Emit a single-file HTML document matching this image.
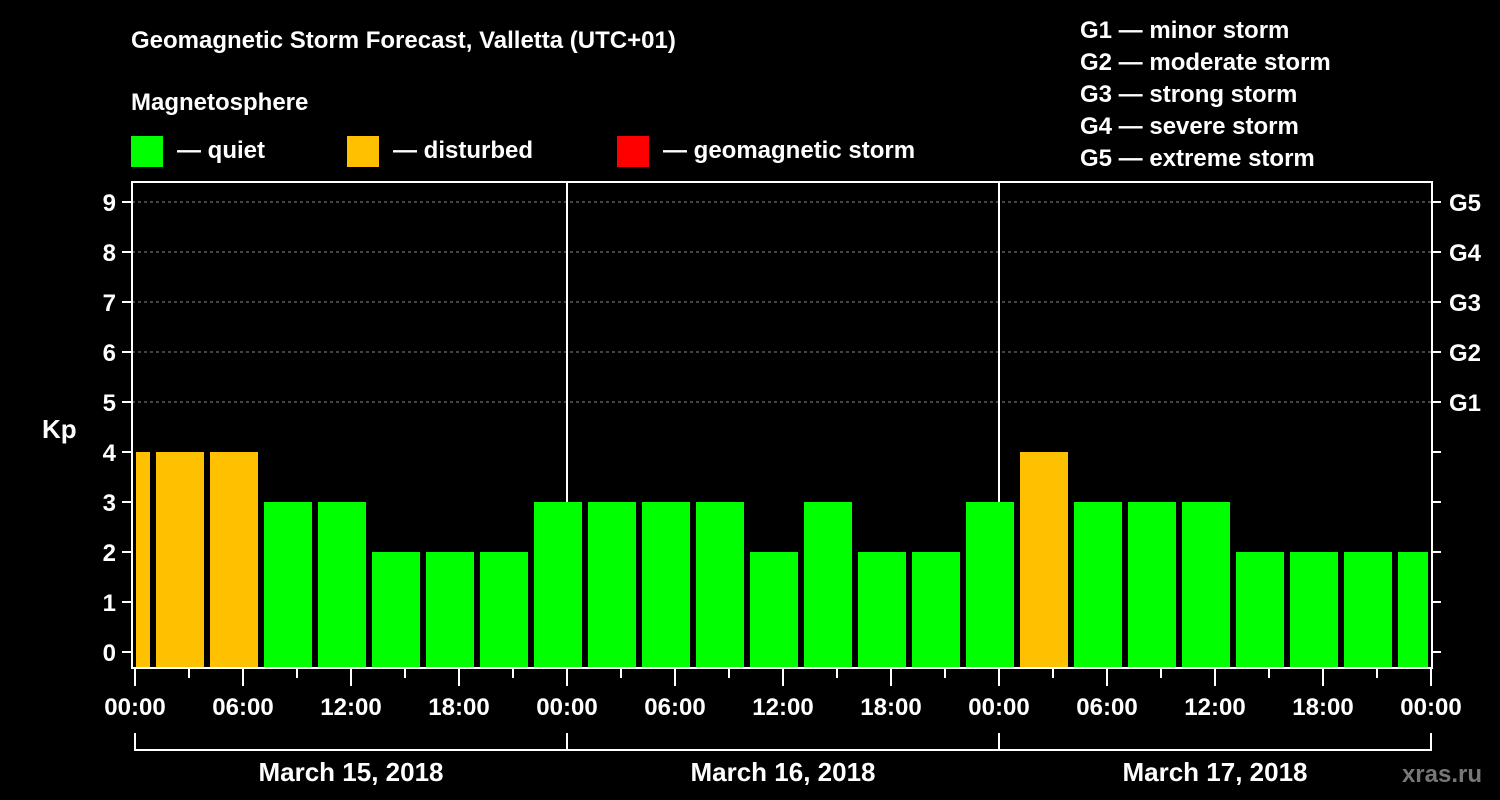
<!DOCTYPE html>
<html><head><meta charset="utf-8"><style>
html,body{margin:0;padding:0;background:#000;}
svg{display:block;font-family:"Liberation Sans",Arial,sans-serif;font-weight:bold;}
</style></head><body>
<svg id="chart" width="1500" height="800" viewBox="0 0 1500 800">
<rect width="1500" height="800" fill="#000"/>
<text x="131" y="48" fill="#fff" font-size="24">Geomagnetic Storm Forecast, Valletta (UTC+01)</text>
<text x="131" y="110" fill="#fff" font-size="24">Magnetosphere</text>
<g><rect x="131" y="136" width="32" height="31" fill="#00ff00"/><text x="177" y="158" fill="#fff" font-size="24">— quiet</text></g>
<g><rect x="347" y="136" width="32" height="31" fill="#ffc000"/><text x="393" y="158" fill="#fff" font-size="24">— disturbed</text></g>
<g><rect x="617" y="136" width="32" height="31" fill="#ff0000"/><text x="663" y="158" fill="#fff" font-size="24">— geomagnetic storm</text></g>
<g fill="#fff" font-size="24">
<text x="1080" y="38">G1 — minor storm</text>
<text x="1080" y="70">G2 — moderate storm</text>
<text x="1080" y="102">G3 — strong storm</text>
<text x="1080" y="134">G4 — severe storm</text>
<text x="1080" y="166">G5 — extreme storm</text>
</g>
<text x="42" y="438" fill="#fff" font-size="26">Kp</text>
<text x="1482" y="782" fill="#777" font-size="24" text-anchor="end">xras.ru</text>
<g id="grid"></g><g id="bars"></g><g id="axes"></g>
</svg>
<script>
const kpValues = [4,4,4,3,3,2,2,2,3,3,3,3,2,3,2,2,3,4,3,3,3,2,2,2,2];
const yTicks = [0,1,2,3,4,5,6,7,8,9];
const gLabels = ["G1","G2","G3","G4","G5"];
const hourTicks = ["00:00","06:00","12:00","18:00","00:00","06:00","12:00","18:00","00:00","06:00","12:00","18:00","00:00"];
const dayLabels = ["March 15, 2018","March 16, 2018","March 17, 2018"];
const firstBarHour = 0.8333 - 3;
const NS="http://www.w3.org/2000/svg";
const X0=135, PXH=18, Y0=652, PXK=50, LEFT=132, RIGHT=1432, TOP=182, BOT=668;
const x=h=>X0+h*PXH, y=k=>Y0-k*PXK;
function mk(t,a,p){const e=document.createElementNS(NS,t);for(const k in a)e.setAttribute(k,a[k]);p.appendChild(e);return e;}
const grid=document.getElementById('grid'),bars=document.getElementById('bars'),axes=document.getElementById('axes');
yTicks.forEach(k=>{
  if(k>=5){const l=mk('line',{x1:LEFT,x2:RIGHT,y1:y(k),y2:y(k),stroke:'#888','stroke-width':1,'stroke-dasharray':'3,3'},grid);
  
  }
  const t=mk('line',{x1:122,x2:LEFT,y1:y(k),y2:y(k),stroke:'#fff','stroke-width':2},axes);
  
  
  const r=mk('line',{x1:RIGHT,x2:1441,y1:y(k),y2:y(k),stroke:'#fff','stroke-width':2},axes);
  
  
  const tx=mk('text',{x:116,y:y(k)+9,fill:'#fff','font-size':24,'text-anchor':'end'},axes);tx.textContent=k;
  
  
});
gLabels.forEach((g,i)=>{const tx=mk('text',{x:1449,y:y(5+i)+9,fill:'#fff','font-size':24},axes);tx.textContent=g;
  
  });
kpValues.forEach((v,i)=>{
  const h=firstBarHour+3*i;
  const xa=Math.max(x(h)+6,136), xb=Math.min(x(h+3),1428);
  const r=mk('rect',{x:xa,y:y(v),width:xb-xa,height:BOT-y(v),fill:v>=5?'#ff0000':(v>=4?'#ffc000':'#00ff00')},bars);
  
  
});
[1,2].forEach(d=>{const l=mk('line',{x1:x(24*d),x2:x(24*d),y1:TOP,y2:BOT,stroke:'#fff','stroke-width':2},grid);
  
  });
const fr=mk('rect',{x:LEFT,y:TOP,width:RIGHT-LEFT,height:BOT-TOP,fill:'none',stroke:'#fff','stroke-width':2},axes);


for(let h=0;h<=72;h+=3){const major=h%6===0;
  const t=mk('line',{x1:x(h),x2:x(h),y1:BOT,y2:major?686:678,stroke:'#fff','stroke-width':2},axes);
  
  }
hourTicks.forEach((s,i)=>{const tx=mk('text',{x:x(6*i),y:715,fill:'#fff','font-size':24,'text-anchor':'middle'},axes);tx.textContent=s;
  
  });
const br=mk('path',{d:`M${x(0)} 733V750H${x(72)}V733M${x(24)} 733V750M${x(48)} 733V750`,stroke:'#fff','stroke-width':2,fill:'none'},axes);


dayLabels.forEach((s,i)=>{const tx=mk('text',{x:x(24*i+12),y:781,fill:'#fff','font-size':26,'text-anchor':'middle'},axes);tx.textContent=s;
  
  });
</script>
</body></html>
